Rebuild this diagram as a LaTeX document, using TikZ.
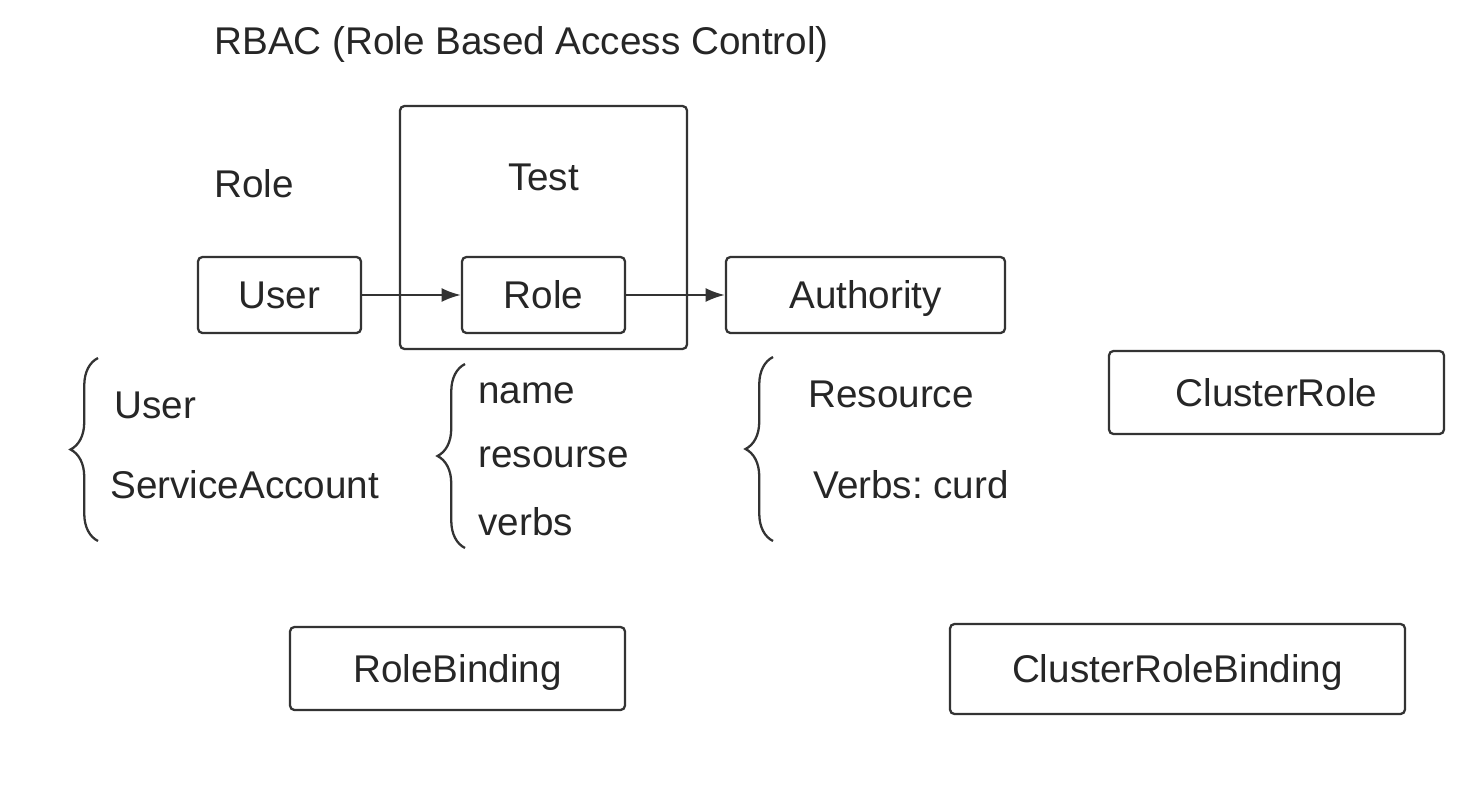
\documentclass[tikz,border=0pt]{standalone}
\usepackage{fontspec}
\setmainfont{Liberation Sans}
\usetikzlibrary{arrows.meta,decorations.pathreplacing}
\begin{document}
\begin{tikzpicture}[x=0.02cm,y=-0.02cm,>={Latex[length=11pt,width=8pt]},
    every node/.style={font=\fontsize{22}{26}\selectfont\frenchspacing, text=black!85},
    box/.style={draw=black!80, line width=1.3pt, rounded corners=2.5pt, text height=15.8pt, text depth=0pt},
    lbl/.style={anchor=base west, inner sep=0pt},
    brc/.style={draw=black!80, line width=1.3pt, decorate, decoration={brace, amplitude=0.55cm}}]
\useasboundingbox (0,0) rectangle (1461,789);
\node[lbl] (title) at (214,54) {RBAC (Role Based Access Control)};
\node[lbl] (rolelbl) at (214,197) {Role};
% main chain
\node[box, minimum width=5.74cm, minimum height=4.86cm] (test) at (543.5,227.5) {};
\node[anchor=base, inner sep=0pt] (testlbl) at (543.5,190) {Test};
\node[box, minimum width=3.26cm, minimum height=1.52cm] (user) at (279.5,295) {User};
\node[box, minimum width=3.26cm, minimum height=1.52cm] (role) at (543.5,295) {Role};
\node[box, minimum width=5.58cm, minimum height=1.52cm] (auth) at (865.5,295) {Authority};
\draw[->, draw=black!80, line width=1.3pt] (user) -- (role);
\draw[->, draw=black!80, line width=1.3pt] (role) -- (auth);
% braces
\draw[brc] (98,541) -- (98,358);
\draw[brc] (465,548) -- (465,364);
\draw[brc] (773,541) -- (773,357);
\node[lbl] (subuser) at (114,418) {User};
\node[lbl] (subsa) at (110,498) {ServiceAccount};
\node[lbl] (name) at (478,403) {name};
\node[lbl] (res) at (478,467) {resourse};
\node[lbl] (verbs) at (478,535) {verbs};
\node[lbl] (resource) at (808,407) {Resource};
\node[lbl] (vcurd) at (813,498) {Verbs: curd};
% other objects
\node[box, minimum width=6.7cm, minimum height=1.66cm] (crole) at (1276.5,392.5) {ClusterRole};
\node[box, minimum width=6.7cm, minimum height=1.66cm] (rb) at (457.5,668.5) {RoleBinding};
\node[box, minimum width=9.1cm, minimum height=1.8cm] (crb) at (1177.5,669) {ClusterRoleBinding};
\end{tikzpicture}
\end{document}
